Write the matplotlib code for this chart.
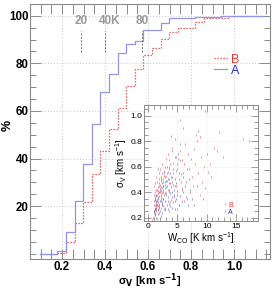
import matplotlib
matplotlib.use('Agg')
import matplotlib.pyplot as plt
from matplotlib.ticker import MultipleLocator

plt.rcParams['font.family'] = ['Liberation Sans', 'DejaVu Sans']
plt.rcParams['mathtext.default'] = 'regular'

# ---- cumulative distributions (main panel) ----
sigma_edges = [0.098, 0.138, 0.178, 0.218, 0.258, 0.298, 0.338, 0.378, 0.418,
               0.458, 0.498, 0.538, 0.578, 0.618, 0.658, 0.698, 0.738, 0.778,
               0.818, 0.858, 0.898, 0.938, 0.978, 1.018, 1.058, 1.098, 1.138]
cum_A = [0, 0, 1.1, 9.0, 22.1, 37.7, 54.4, 67.8, 75.5, 84.5, 88.0, 89.4, 94.0,
         94.0, 96.8, 98.9, 98.9, 98.9, 99.6, 99.6, 99.6, 100, 100, 100, 100, 100, 100]
cum_B = [0, 0, 0.5, 4.8, 12.8, 21.6, 33.5, 43.2, 52.4, 61.3, 70.5, 77.6, 83.5,
         86.3, 90.1, 93.0, 95.0, 95.0, 97.5, 98.9, 98.9, 98.9, 100, 100, 100, 100, 100]

thermal_labels = ['20', '40K', '80']
thermal_sigma = [0.288, 0.400, 0.571]

# ---- inset scatter: W_CO vs sigma_V ----
B_W = [1.0, 1.1, 1.2, 1.3, 1.1, 1.4, 1.2, 1.5, 1.3, 1.6, 1.7, 1.8, 1.5, 1.9, 2.0, 2.1, 2.2,
       1.4, 1.0, 1.2, 1.6, 1.8, 2.3, 2.4, 2.0, 2.5, 2.6, 1.3, 1.1, 1.7, 2.2, 2.8, 3.0, 2.7,
       3.2, 2.9, 3.5, 3.4, 1.9, 1.5, 1.0, 1.2, 2.1, 2.4, 1.8,
       3.8, 4.2, 4.5, 3.6, 4.0, 4.8, 5.0, 5.3, 5.5, 5.7, 4.4, 3.3, 6.0, 6.2, 5.8, 6.5, 6.8,
       7.0, 6.3, 7.3, 7.5, 7.8, 8.0, 8.2, 8.5, 8.4, 8.8, 7.6, 8.6, 9.0, 9.2, 9.5, 9.8, 10.0,
       10.3, 10.8, 11.2, 11.8, 12.2, 9.3, 8.9, 6.7, 7.2, 5.2, 4.6, 5.4, 6.0, 9.7, 16.2, 17.3,
       12.8, 10.5, 7.9, 6.1, 4.9, 3.7, 2.9, 0.6, 0.8, 1.0, 1.3, 1.6, 2.3, 3.1, 4.1, 3.9,
       1.05, 1.15, 1.25, 1.35, 1.45, 1.55, 1.65, 1.75, 1.85, 1.95, 2.05, 2.15, 2.25, 2.35,
       2.45, 2.55, 2.65, 2.75, 2.85, 3.05, 3.15, 3.25, 3.45, 3.55, 3.75, 3.95, 4.3, 4.7,
       5.1, 5.6]
B_sig = [0.25, 0.30, 0.34, 0.28, 0.36, 0.32, 0.22, 0.38, 0.42, 0.27, 0.35, 0.45, 0.48, 0.31,
         0.40, 0.52, 0.36, 0.25, 0.33, 0.40, 0.44, 0.50, 0.47, 0.55, 0.58, 0.42, 0.50, 0.37,
         0.28, 0.29, 0.44, 0.48, 0.53, 0.38, 0.45, 0.60, 0.50, 0.56, 0.55, 0.35, 0.38, 0.47,
         0.33, 0.30, 0.24,
         0.62, 0.55, 0.68, 0.40, 0.48, 0.45, 0.58, 0.50, 0.72, 0.65, 0.36, 0.70, 0.55, 0.62,
         0.42, 0.48, 0.70, 0.58, 0.78, 0.66, 0.52, 0.74, 0.62, 0.85, 0.88, 0.80, 0.83, 0.45,
         0.55, 0.68, 0.48, 0.60, 0.43, 0.70, 0.56, 0.52, 0.75, 0.72, 0.87, 0.35, 0.38, 0.35,
         0.40, 0.30, 0.82, 0.97, 0.90, 1.04, 0.82, 0.80, 0.68, 0.62, 0.30, 0.33, 0.27, 0.32,
         0.28, 0.18, 0.20, 0.45, 0.52, 0.58, 0.62, 0.66, 0.75, 0.84,
         0.24, 0.26, 0.29, 0.31, 0.30, 0.33, 0.39, 0.41, 0.37, 0.43, 0.46, 0.49, 0.41, 0.39,
         0.35, 0.45, 0.53, 0.57, 0.43, 0.39, 0.49, 0.55, 0.42, 0.60, 0.47, 0.52, 0.63, 0.57,
         0.66, 0.54]
A_W = [1.2, 1.4, 1.5, 1.7, 1.9, 2.0, 2.2, 2.4, 2.5, 2.7, 2.9, 3.0, 3.2, 3.4, 3.5, 3.7, 3.9,
       4.0, 4.2, 4.4, 4.6, 4.8, 5.0, 5.2, 5.4, 5.6, 1.3, 1.6, 1.8, 2.1, 2.3, 2.6, 2.8, 3.1,
       3.3, 3.6, 3.8, 4.1, 4.3, 4.5, 4.9, 5.3, 5.1, 5.5, 4.7, 3.2, 2.7, 2.2, 1.9, 1.5, 1.1,
       1.3, 1.6, 2.0, 2.4, 2.8, 3.3, 3.6, 4.1, 4.6, 5.8, 6.0, 6.3, 6.5, 5.9, 6.6, 7.0, 7.2,
       1.4, 1.7, 2.1, 2.5, 2.9, 3.4, 3.9, 4.4, 4.8, 5.7, 2.6, 3.0, 3.7, 4.2, 1.8, 2.3, 3.5,
       4.0, 4.5, 5.0, 1.0, 1.2, 1.1, 0.9, 2.0, 2.9, 3.6, 4.0, 5.5, 1.5, 2.2, 6.8, 7.5, 8.3,
       3.5, 2.5]
A_sig = [0.24, 0.27, 0.30, 0.26, 0.29, 0.33, 0.28, 0.31, 0.35, 0.27, 0.33, 0.38, 0.30, 0.36,
         0.42, 0.29, 0.34, 0.40, 0.32, 0.38, 0.45, 0.35, 0.41, 0.30, 0.37, 0.48, 0.33, 0.36,
         0.40, 0.38, 0.43, 0.40, 0.46, 0.44, 0.50, 0.47, 0.55, 0.52, 0.58, 0.50, 0.62, 0.55,
         0.70, 0.65, 0.68, 0.60, 0.55, 0.50, 0.47, 0.42, 0.22, 0.20, 0.23, 0.25, 0.24, 0.26,
         0.27, 0.25, 0.28, 0.27, 0.33, 0.40, 0.45, 0.36, 0.52, 0.58, 0.50, 0.42, 0.38, 0.32,
         0.35, 0.29, 0.39, 0.33, 0.44, 0.42, 0.47, 0.43, 0.45, 0.49, 0.39, 0.46, 0.28, 0.32,
         0.31, 0.36, 0.33, 0.38, 0.30, 0.35, 0.27, 0.25, 0.42, 0.52, 0.65, 0.72, 0.78, 0.19,
         0.21, 0.30, 0.35, 0.45, 0.58, 0.48]

RED = '#e03a3a'
BLUE = '#2a2ad0'
LINE_BLUE = '#9494e8'
GREY = '#8a8a8a'

fig = plt.figure(figsize=(2.73, 2.91), dpi=100)
ax = fig.add_axes([0.1099, 0.110, 0.879, 0.876])

ax.step(sigma_edges, cum_B, where='post', color=RED, ls=(0, (1, 1.4)), lw=0.9, label='B')
ax.step(sigma_edges, cum_A, where='post', color=LINE_BLUE, lw=0.9, label='A')

ax.set_xlim(0.051, 1.167)
ax.set_ylim(-2.2, 104.9)
ax.set_xticks([0.2, 0.4, 0.6, 0.8, 1.0])
ax.set_xticklabels(['0.2', '0.4', '0.6', '0.8', '1.0'])
ax.xaxis.set_minor_locator(MultipleLocator(0.05))
ax.set_yticks([20, 40, 60, 80, 100])
ax.yaxis.set_minor_locator(MultipleLocator(5))
ax.grid(True, which='major', color='#c8c8c8', ls=(0, (1, 2)), lw=0.7)
ax.tick_params(which='both', direction='in', top=True, right=True, color=GREY, width=0.7)
ax.tick_params(axis='x', which='both', length=7, pad=1.2)
ax.tick_params(axis='y', which='major', length=8, pad=1)
ax.tick_params(axis='y', which='minor', length=4)
for lab in ax.get_xticklabels() + ax.get_yticklabels():
    lab.set_fontweight('bold')
    lab.set_fontsize(8.3)
for sp in ax.spines.values():
    sp.set_color(GREY)
    sp.set_linewidth(0.8)

# thermal markers
ax.vlines(thermal_sigma, 84.7, 93.6, colors='#707070', linestyles=(0, (2, 1.5)), lw=0.7)
for s, t in zip(thermal_sigma, thermal_labels):
    if t.endswith('K'):
        ax.annotate(t, (s, 97.8), xytext=(-4.6, 0), textcoords='offset points',
                    ha='left', va='center', color='#999999', fontweight='bold', fontsize=8.5)
    else:
        ax.annotate(t, (s, 97.8), ha='center', va='center', color='#999999',
                    fontweight='bold', fontsize=8.5)

leg = ax.legend(loc='upper left', bbox_to_anchor=(0.765, 0.805), frameon=False,
                borderaxespad=0, borderpad=0, handlelength=1.1, handletextpad=0.3,
                labelspacing=-0.1, fontsize=9)
for txt, c in zip(leg.get_texts(), [RED, BLUE]):
    txt.set_color(c)

fig.text(0.029, 0.570, '%', rotation=90, ha='center', va='center',
         fontweight='bold', fontsize=9)
fig.text(0.549, 0.003, 'σ$_\\mathbf{V}$ [km s$^\\mathbf{-1}$]', ha='center', va='bottom',
         fontweight='bold', fontsize=8)

# ---- inset ----
ins = fig.add_axes([0.5286, 0.2405, 0.4154, 0.3986])
ins.set_facecolor('white')
ins.plot(B_W, B_sig, ls='none', marker='|', ms=1.8, mew=0.5, color=RED, alpha=0.8, label='B')
ins.plot(A_W, A_sig, ls='none', marker='|', ms=1.8, mew=0.5, color=BLUE, alpha=0.65, label='A')
ins.set_xlim(-0.68, 18.75)
ins.set_ylim(0.174, 1.084)
ins.set_xticks([0, 5, 10, 15])
ins.xaxis.set_minor_locator(MultipleLocator(1))
ins.set_yticks([0.2, 0.4, 0.6, 0.8, 1.0])
ins.set_yticklabels(['0.2', '0.4', '0.6', '0.8', '1.0'])
ins.yaxis.set_minor_locator(MultipleLocator(0.05))
ins.grid(True, which='major', color='#dddddd', ls=(0, (1, 2)), lw=0.5)
ins.tick_params(which='both', direction='in', top=True, right=True, color=GREY,
                width=0.6, labelsize=6, pad=1.5)
ins.tick_params(which='major', length=5)
ins.tick_params(which='minor', length=3)
for sp in ins.spines.values():
    sp.set_color(GREY)
    sp.set_linewidth(0.7)
ins.set_xlabel('W$_{CO}$ [K km s$^{-1}$]', fontsize=7, labelpad=0)
ins.set_ylabel('σ$_V$ [km s$^{-1}$]', fontsize=7, labelpad=1)
ileg = ins.legend(loc='upper left', bbox_to_anchor=(0.69, 0.165), frameon=False,
                  borderaxespad=0, borderpad=0, handlelength=0.6, handletextpad=0.2,
                  labelspacing=0.0, fontsize=5, markerscale=0.8)
for txt, c in zip(ileg.get_texts(), [RED, BLUE]):
    txt.set_color(c)

fig.savefig('out.png', dpi=100)
